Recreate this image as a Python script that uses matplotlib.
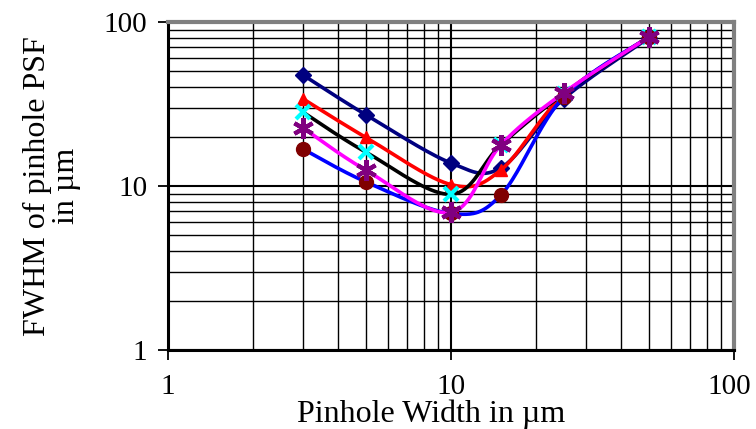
import matplotlib.pyplot as plt
import numpy as np
from matplotlib.ticker import LogLocator, NullFormatter, FixedLocator
from matplotlib.transforms import ScaledTranslation

plt.rcParams['font.family'] = ['Liberation Serif', 'DejaVu Serif']

# pinhole width (um) and FWHM of PSF (um) for each series
pinhole = [3, 5, 10, 15, 25, 50]
fwhm_navy = [47.5, 27.2, 13.8, 12.9, 34.0, 80.0]
fwhm_red = [34.0, 19.8, 10.2, 12.5, 36.0, 81.0]
fwhm_black = [28.2, 16.1, 8.9, 17.8, 36.5, 81.0]
fwhm_blue = [16.8, 10.6, 6.8, 8.8, 35.0, 81.0]
fwhm_magenta = [22.6, 12.5, 6.9, 17.8, 37.0, 81.0]

x_ticks = [1, 10, 100]
y_ticks = [1, 10, 100]


def smooth(x, y, n=40):
    # Catmull-Rom through the points, done in log-log space
    lx, ly = np.log10(x), np.log10(y)
    P = np.column_stack([lx, ly])
    P = np.vstack([P[0], P, P[-1]])
    xs, ys = [], []
    t = np.linspace(0, 1, n)
    for i in range(1, len(P) - 2):
        p0, p1, p2, p3 = P[i - 1], P[i], P[i + 1], P[i + 2]
        c1 = p1 + (p2 - p0) / 6
        c2 = p2 - (p3 - p1) / 6
        b = ((1 - t) ** 3)[:, None] * p1 + (3 * (1 - t) ** 2 * t)[:, None] * c1 \
            + (3 * (1 - t) * t ** 2)[:, None] * c2 + (t ** 3)[:, None] * p2
        xs.append(b[:, 0])
        ys.append(b[:, 1])
    return 10 ** np.concatenate(xs), 10 ** np.concatenate(ys)


fig = plt.figure(figsize=(7.56, 4.29), dpi=100)
ax = fig.add_axes([168 / 756, 79 / 429, 566 / 756, 328 / 429])
ax.set_xscale('log')
ax.set_yscale('log')
ax.set_xlim(1, 100)
ax.set_ylim(1, 100)

series = [
    (fwhm_navy, '#000080', dict(marker='D', color='#000080', ms=8)),
    (fwhm_red, '#FF0000', dict(marker='^', color='#FF0000', ms=9)),
    (fwhm_black, '#000000', dict(marker='x', color='#00FFFF', ms=10, mew=3)),
    (fwhm_blue, '#0000FF', dict(marker='o', color='#800000', ms=10)),
    (fwhm_magenta, '#FF00FF', dict(marker=(6, 2, 0), color='#800080', ms=15, mew=3)),
]
for k, (vals, lc, mk) in enumerate(series):
    sx, sy = smooth(pinhole, vals)
    ax.plot(sx, sy, color=lc, lw=2.6, zorder=3 + 2 * k, solid_capstyle='round')
    ax.plot(pinhole, vals, linestyle='none', zorder=4 + 2 * k, **mk)

ax.xaxis.set_major_locator(FixedLocator(x_ticks))
ax.yaxis.set_major_locator(FixedLocator(y_ticks))
ax.xaxis.set_minor_locator(LogLocator(base=10, subs=np.arange(2, 10)))
ax.yaxis.set_minor_locator(LogLocator(base=10, subs=np.arange(2, 10)))
ax.xaxis.set_minor_formatter(NullFormatter())
ax.yaxis.set_minor_formatter(NullFormatter())
ax.set_xticklabels([str(v) for v in x_ticks])
ax.set_yticklabels([str(v) for v in y_ticks])

ax.grid(which='major', color='black', lw=1.5, zorder=1)
ax.grid(which='minor', color='black', lw=1.0, zorder=1)
ax.set_axisbelow(True)

ax.tick_params(which='minor', length=0)
ax.tick_params(axis='x', which='major', direction='out', length=7, width=1.3,
               labelsize=21, pad=10)
ax.tick_params(axis='y', which='major', direction='out', length=7, width=1.3,
               labelsize=21, pad=8)
# keep the last x label inside the figure
last = ax.get_xticklabels()[-1]
last.set_transform(last.get_transform() + ScaledTranslation(-5 / 100, 0, fig.dpi_scale_trans))

for side in ['left', 'bottom']:
    ax.spines[side].set_color('black')
    ax.spines[side].set_linewidth(2.2)
for side in ['top', 'right']:
    ax.spines[side].set_color('#808080')
    ax.spines[side].set_linewidth(3)

ax.set_xlabel('Pinhole Width in µm', fontsize=23)
ax.xaxis.set_label_coords(0.465, -0.195)
ax.xaxis.label.set_va('center')
ax.set_ylabel('FWHM of pinhole PSF\nin µm', fontsize=23, linespacing=1.0)
ax.yaxis.set_label_coords(-0.205, 0.5)
ax.yaxis.label.set_va('center')

fig.savefig('out.png', dpi=100)
